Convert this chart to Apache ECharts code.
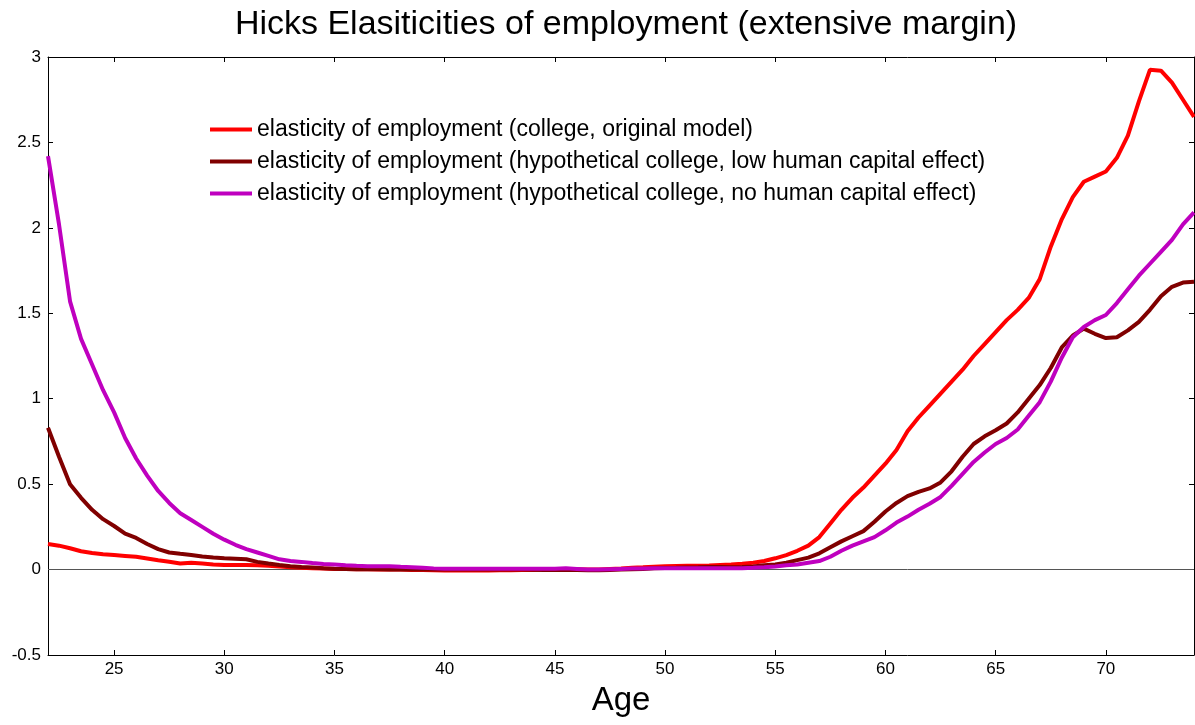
<!DOCTYPE html>
<html>
<head>
<meta charset="utf-8">
<script src="https://cdn.jsdelivr.net/npm/echarts@6/dist/echarts.min.js"></script>
<style>
  html, body { margin: 0; padding: 0; background: #fff; }
  #main { width: 1195px; height: 725px; }
</style>
</head>
<body>
<div id="main"></div>
<script>
// ages, half-year steps
var ages = [
  22, 22.5, 23, 23.5, 24, 24.5, 25, 25.5, 26, 26.5, 27, 27.5, 28, 28.5, 29, 29.5,
  30, 30.5, 31, 31.5, 32, 32.5, 33, 33.5, 34, 34.5, 35, 35.5, 36, 36.5, 37, 37.5,
  38, 38.5, 39, 39.5, 40, 40.5, 41, 41.5, 42, 42.5, 43, 43.5, 44, 44.5, 45, 45.5,
  46, 46.5, 47, 47.5, 48, 48.5, 49, 49.5, 50, 50.5, 51, 51.5, 52, 52.5, 53, 53.5,
  54, 54.5, 55, 55.5, 56, 56.5, 57, 57.5, 58, 58.5, 59, 59.5, 60, 60.5, 61, 61.5,
  62, 62.5, 63, 63.5, 64, 64.5, 65, 65.5, 66, 66.5, 67, 67.5, 68, 68.5, 69, 69.5,
  70, 70.5, 71, 71.5, 72, 72.5, 73, 73.5, 74
];

// college, original model
var original = [
  0.150, 0.140, 0.125, 0.107, 0.097, 0.090, 0.085, 0.080, 0.075, 0.065, 0.055, 0.046, 0.035, 0.040, 0.035, 0.030,
  0.027, 0.027, 0.027, 0.025, 0.022, 0.018, 0.014, 0.010, 0.008, 0.006, 0.004, 0.003, 0.002, 0.002, 0.001, 0.000,
  0.000, -0.002, -0.003, -0.004, -0.005, -0.005, -0.005, -0.005, -0.005, -0.004, -0.004, -0.003, -0.002, 0.000, 0.003, 0.004,
  0.002, 0.000, 0.000, 0.003, 0.006, 0.010, 0.013, 0.017, 0.020, 0.021, 0.022, 0.023, 0.024, 0.027, 0.030, 0.034,
  0.040, 0.050, 0.066, 0.085, 0.110, 0.140, 0.190, 0.270, 0.350, 0.420, 0.480, 0.550, 0.620, 0.700, 0.810, 0.890,
  0.960, 1.030, 1.100, 1.170, 1.250, 1.320, 1.390, 1.460, 1.520, 1.590, 1.700, 1.890, 2.050, 2.180, 2.270, 2.300,
  2.330, 2.410, 2.540, 2.740, 2.925, 2.920, 2.850, 2.750, 2.650
];

// hypothetical college, low human capital effect
var lowHC = [
  0.830, 0.660, 0.500, 0.420, 0.350, 0.295, 0.255, 0.210, 0.185, 0.150, 0.120, 0.100, 0.092, 0.085, 0.076, 0.070,
  0.066, 0.063, 0.060, 0.045, 0.035, 0.027, 0.020, 0.015, 0.012, 0.008, 0.005, 0.003, 0.002, 0.002, 0.002, 0.001,
  0.001, 0.001, 0.000, 0.000, 0.000, 0.000, 0.000, 0.000, 0.000, 0.000, 0.000, 0.000, -0.001, -0.003, -0.003, -0.003,
  -0.003, -0.004, -0.004, -0.002, 0.000, 0.002, 0.004, 0.007, 0.009, 0.010, 0.012, 0.013, 0.015, 0.015, 0.014, 0.015,
  0.018, 0.025, 0.030, 0.040, 0.055, 0.070, 0.095, 0.130, 0.165, 0.195, 0.225, 0.280, 0.340, 0.390, 0.430, 0.455,
  0.475, 0.510, 0.575, 0.660, 0.735, 0.780, 0.815, 0.855, 0.920, 1.000, 1.080, 1.180, 1.300, 1.370, 1.410, 1.380,
  1.355, 1.360, 1.400, 1.450, 1.520, 1.600, 1.655, 1.680, 1.685
];

// hypothetical college, no human capital effect
var noHC = [
  2.420, 2.020, 1.570, 1.350, 1.200, 1.050, 0.920, 0.770, 0.650, 0.550, 0.460, 0.390, 0.330, 0.290, 0.250, 0.210,
  0.175, 0.145, 0.120, 0.100, 0.080, 0.060, 0.050, 0.045, 0.038, 0.033, 0.030, 0.025, 0.022, 0.020, 0.020, 0.020,
  0.016, 0.013, 0.010, 0.007, 0.005, 0.005, 0.005, 0.005, 0.005, 0.005, 0.005, 0.005, 0.005, 0.005, 0.005, 0.008,
  0.004, 0.000, 0.000, 0.002, 0.004, 0.006, 0.007, 0.008, 0.008, 0.008, 0.008, 0.008, 0.008, 0.008, 0.008, 0.008,
  0.010, 0.013, 0.018, 0.025, 0.030, 0.040, 0.050, 0.075, 0.110, 0.140, 0.165, 0.190, 0.230, 0.275, 0.310, 0.350,
  0.385, 0.425, 0.490, 0.560, 0.630, 0.685, 0.735, 0.770, 0.820, 0.900, 0.980, 1.100, 1.240, 1.360, 1.420, 1.460,
  1.490, 1.560, 1.640, 1.720, 1.790, 1.860, 1.930, 2.020, 2.090
];

var seriesNames = [
  'elasticity of employment (college, original model)',
  'elasticity of employment (hypothetical college, low human capital effect)',
  'elasticity of employment (hypothetical college, no human capital effect)'
];
var seriesColors = ['#ff0000', '#800000', '#bf00bf'];
var xTicks = [25, 30, 35, 40, 45, 50, 55, 60, 65, 70];

function pairs(vals) {
  return ages.map(function (a, i) { return [a, vals[i]]; });
}

var font = 'Liberation Sans, Arial, sans-serif';
var chart = echarts.init(document.getElementById('main'));

var xBase = {
  type: 'value',
  min: 22,
  max: 74,
  splitLine: { show: false },
  axisLine: { show: true, onZero: false, lineStyle: { color: '#000', width: 1 } },
  axisTick: { show: true, inside: true, length: 5, customValues: xTicks, lineStyle: { color: '#000' } }
};
var yBase = {
  type: 'value',
  min: -0.5,
  max: 3,
  interval: 0.5,
  splitLine: { show: false },
  axisLine: { show: true, onZero: false, lineStyle: { color: '#000', width: 1 } },
  axisTick: { show: true, inside: true, length: 5, lineStyle: { color: '#000' } }
};

var option = {
  animation: false,
  backgroundColor: '#fff',
  title: {
    text: 'Hicks Elasiticities of employment (extensive margin)',
    left: 621,
    textAlign: 'center',
    top: 3,
    textStyle: { fontFamily: font, fontSize: 34, fontWeight: 'normal', color: '#000' }
  },
  legend: {
    orient: 'vertical',
    left: 205,
    top: 113,
    itemGap: 9,
    itemWidth: 42,
    itemHeight: 4,
    icon: 'rect',
    data: seriesNames,
    textStyle: { fontFamily: font, fontSize: 23, color: '#000' }
  },
  grid: { left: 48, right: 1, top: 57, bottom: 70, outerBoundsMode: 'none', containLabel: false },
  xAxis: [
    Object.assign({}, xBase, {
      position: 'bottom',
      name: 'Age',
      nameLocation: 'middle',
      nameGap: 29,
      nameTextStyle: { fontFamily: font, fontSize: 33, color: '#000' },
      axisLabel: { customValues: xTicks, fontFamily: font, fontSize: 17, color: '#000', margin: 6 }
    }),
    Object.assign({}, xBase, { position: 'top', axisLabel: { show: false } })
  ],
  yAxis: [
    Object.assign({}, yBase, {
      position: 'left',
      axisLabel: { fontFamily: font, fontSize: 17, color: '#000', margin: 7 }
    }),
    Object.assign({}, yBase, { position: 'right', axisLabel: { show: false } })
  ],
  series: [original, lowHC, noHC].map(function (vals, i) {
    var s = {
      name: seriesNames[i],
      type: 'line',
      data: pairs(vals),
      showSymbol: false,
      symbol: 'none',
      color: seriesColors[i],
      lineStyle: { color: seriesColors[i], width: 4 },
      z: 3 + i
    };
    if (i === 0) {
      s.markLine = {
        silent: true,
        symbol: 'none',
        label: { show: false },
        lineStyle: { color: '#555', width: 1, type: 'solid' },
        data: [{ yAxis: 0 }],
        z: 1
      };
    }
    return s;
  })
};

chart.setOption(option);
</script>
</body>
</html>
